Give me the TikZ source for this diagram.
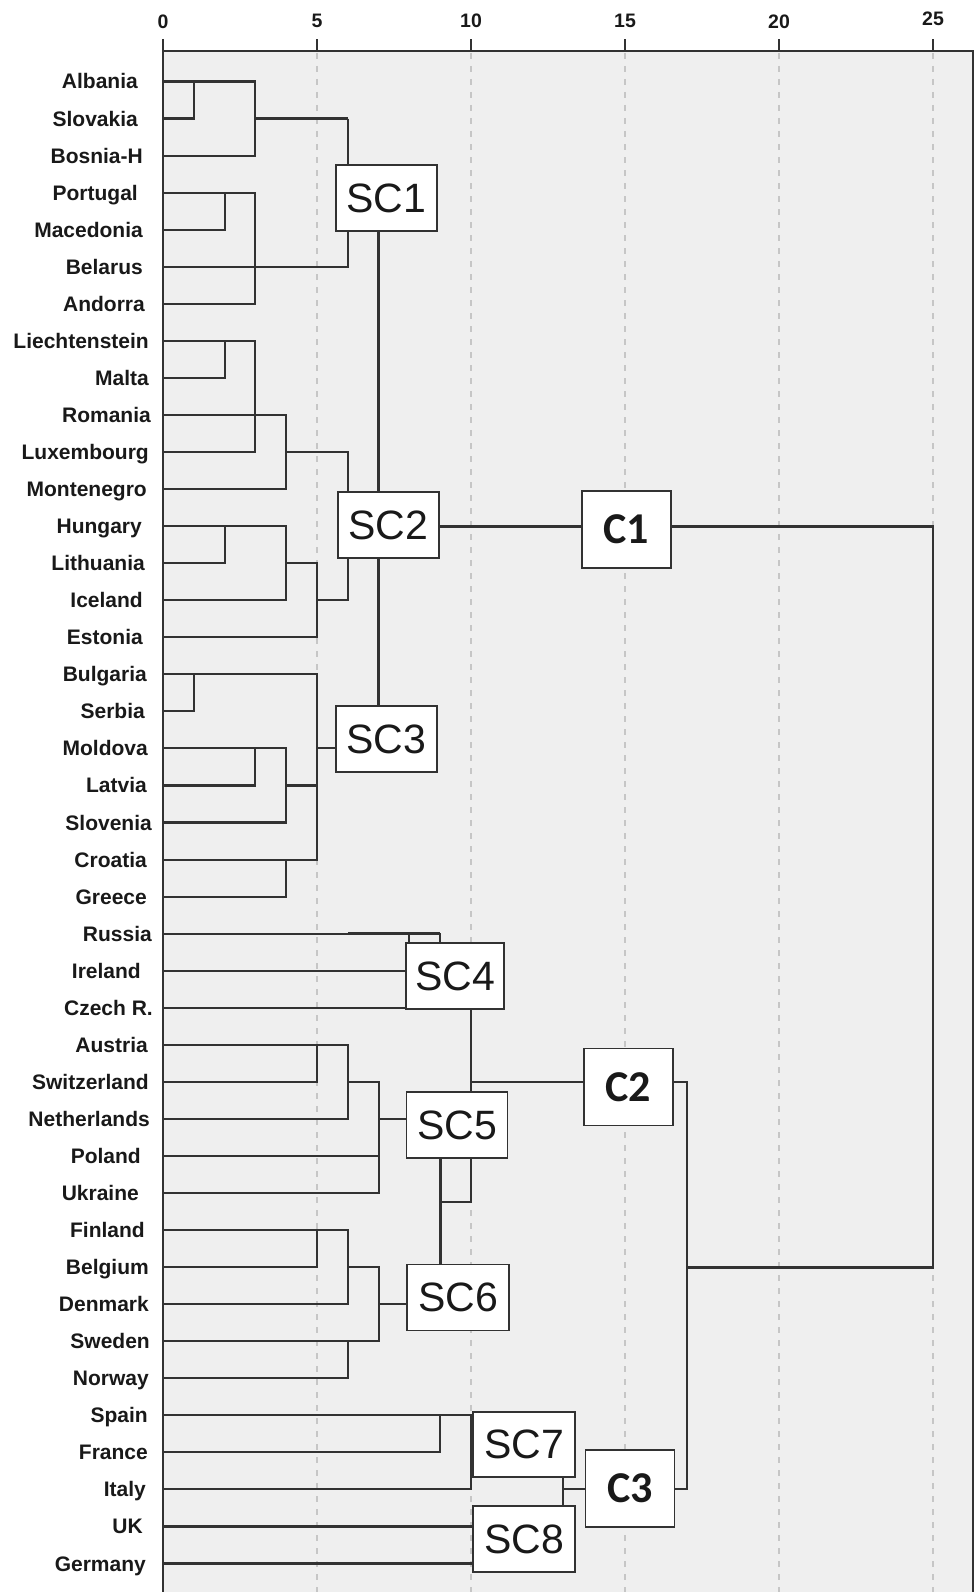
\documentclass[tikz,border=0pt]{standalone}
\usepackage{fontspec}
\setmainfont{Liberation Sans}
\newfontfamily\carl{Carlito}
\usetikzlibrary{calc}
\definecolor{panel}{RGB}{239,239,239}
\definecolor{dg}{RGB}{50,50,50}
\definecolor{gridc}{RGB}{198,198,198}
\definecolor{txt}{RGB}{25,25,25}
\pgfdeclarelayer{bg}
\pgfdeclarelayer{lines}
\pgfsetlayers{bg,lines,main}
\tikzset{
  den/.style={draw=dg, line width=2.1pt},
  heavy/.style={draw=dg, line width=2.8pt},
  axisline/.style={draw=dg, line width=2.3pt},
  gridline/.style={draw=gridc, line width=1.3pt, dash pattern=on 6pt off 7pt},
  lab/.style={font=\bfseries\fontsize{21}{21}\selectfont, text=txt, inner sep=0pt, text height=15pt, text depth=0pt, anchor=east},
  tick/.style={font=\bfseries\fontsize{19.5}{19.5}\selectfont, text=txt, inner sep=0pt},
  scbox/.style={draw=dg, fill=white, line width=1.9pt, minimum width=101pt, minimum height=66pt, inner sep=0pt, font=\fontsize{41}{41}\selectfont, text=txt},
  cbox/.style={draw=dg, fill=white, line width=1.9pt, minimum width=89pt, minimum height=77pt, inner sep=0pt, font=\carl\bfseries\fontsize{44}{44}\selectfont, text=txt}
}
\begin{document}
\begin{tikzpicture}[x=1pt,y=-1pt]
\useasboundingbox (0,0) rectangle (978,1592);
% axis coordinates
\foreach \k in {0,...,25} \coordinate (u\k) at ({163+30.8*\k},51);
\begin{pgfonlayer}{bg}
  \fill[panel] (163,51) rectangle (973,1592);
  \foreach \k in {5,10,15,20,25} \draw[gridline] ({163+30.8*\k},53) -- ({163+30.8*\k},1592);
\end{pgfonlayer}
% axis
\draw[axisline] (163,39) -- (163,1592);
\draw[axisline] (163,51) -- (973,51) -- (973,1592);
\foreach \k in {5,10,15,20,25} \draw[axisline] (u\k) -- ({163+30.8*\k},39);
\foreach \k/\ty in {0/22,5/21,10/21,15/21,20/22,25/19} \node[tick] (t\k) at ({163+30.8*\k},\ty) {\k};
% rows and labels
\foreach \nm/\re [count=\i] in {Albania/138,Slovakia/138,Bosnia-H/143,Portugal/138,Macedonia/143,Belarus/143,Andorra/145,Liechtenstein/149,Malta/149,Romania/151,Luxembourg/149,Montenegro/147,Hungary/142,Lithuania/145,Iceland/143,Estonia/143,Bulgaria/147,Serbia/145,Moldova/148,Latvia/147,Slovenia/152,Croatia/147,Greece/147,Russia/152,Ireland/141,Czech R./153,Austria/148,Switzerland/149,Netherlands/150,Poland/141,Ukraine/139,Finland/145,Belgium/149,Denmark/149,Sweden/150,Norway/149,Spain/148,France/148,Italy/146,UK/143,Germany/146}{
  \pgfmathsetmacro\yy{81.5+37.05*(\i-1)}
  \coordinate (r\i) at (163,\yy);
  \node[lab] (l\i) at (\re,\yy) {\nm};
}
% boxes
\node[scbox] (sc1) at (386.5,198) {SC1};
\node[scbox] (sc2) at (388.5,525) {SC2};
\node[scbox] (sc3) at (386.5,739) {SC3};
\node[scbox,minimum width=98pt] (sc4) at (455,976) {SC4};
\node[scbox] (sc5) at (457,1125) {SC5};
\node[scbox,minimum width=102pt] (sc6) at (458,1297.5) {SC6};
\node[scbox,minimum width=102pt,minimum height=65pt] (sc7) at (524,1444.5) {SC7};
\node[scbox,minimum width=102pt] (sc8) at (524,1539) {SC8};
\node[cbox] (c1) at (626.5,529.5) {C1};
\node[cbox] (c2) at (628.5,1087) {C2};
\node[cbox] (c3) at (630,1488.5) {C3};
\coordinate (k56) at (440.2,1202);
\begin{pgfonlayer}{lines}
% SC1
\draw[den] (r1) -- (u3|-r1) -- (u3|-r3) -- (r3);
\draw[den] (r2) -- (u1|-r2) -- (u1|-r1);
\draw[heavy] (u3|-r2) -- (u6|-r2);
\draw[den] (u6|-r2) -- (u6|-r6) -- (r6);
\draw[den] (r4) -- (u3|-r4) -- (u3|-r7) -- (r7);
\draw[den] (r5) -- (u2|-r5) -- (u2|-r4);
\draw[heavy] (u7|-sc1.south) -- (u7|-sc3.north);
% SC2
\draw[den] (r8) -- (u3|-r8) -- (u3|-r11) -- (r11);
\draw[den] (r9) -- (u2|-r9) -- (u2|-r8);
\draw[den] (r10) -- (u4|-r10) -- (u4|-r12) -- (r12);
\draw[den] (u4|-r11) -- (u6|-r11) -- (u6|-r15) -- (u5|-r15);
\draw[den] (r13) -- (u4|-r13) -- (u4|-r15) -- (r15);
\draw[den] (r14) -- (u2|-r14) -- (u2|-r13);
\draw[den] (u4|-r14) -- (u5|-r14) -- (u5|-r16) -- (r16);
\draw[heavy] (sc2.east|-r13) -- (c1.west|-r13);
% SC3
\draw[den] (r17) -- (u5|-r17) -- (u5|-r22) -- (r22);
\draw[den] (r18) -- (u1|-r18) -- (u1|-r17);
\draw[den] (r19) -- (u4|-r19) -- (u4|-r21) -- (r21);
\draw[den] (r20) -- (u3|-r20) -- (u3|-r19);
\draw[den] (u4|-r20) -- (u5|-r20);
\draw[den] (r23) -- (u4|-r23) -- (u4|-r22);
\draw[den] (u5|-r19) -- (sc3.west|-r19);
% SC4
\draw[den] (r24) -- (u9|-r24) -- (u9|-sc4.north);
\draw[heavy] (u6|-r24) -- (u9|-r24);
\draw[den] (u8|-r24) -- (u8|-sc4.north);
\draw[den] (r25) -- (sc4.west|-r25);
\draw[den] (r26) -- (sc4.west|-r26);
\draw[den] (u10|-sc4.south) -- (u10|-sc5.north);
\draw[den] (u10|-r28) -- (c2.west|-r28);
% SC5
\draw[den] (r27) -- (u6|-r27) -- (u6|-r29) -- (r29);
\draw[den] (r28) -- (u5|-r28) -- (u5|-r27);
\draw[den] (u6|-r28) -- (u7|-r28) -- (u7|-r31) -- (r31);
\draw[den] (r30) -- (u7|-r30);
\draw[den] (u7|-r29) -- (sc5.west|-r29);
\draw[heavy] (u9|-sc5.south) -- (u9|-sc6.north);
\draw[den] (u10|-sc5.south) -- (u10|-k56) -- (k56);
% SC6
\draw[den] (r32) -- (u6|-r32) -- (u6|-r34) -- (r34);
\draw[den] (r33) -- (u5|-r33) -- (u5|-r32);
\draw[den] (u6|-r33) -- (u7|-r33) -- (u7|-r35) -- (r35);
\draw[den] (r36) -- (u6|-r36) -- (u6|-r35);
\draw[den] (u7|-r34) -- (sc6.west|-r34);
% SC7 / SC8
\draw[den] (r37) -- (u10|-r37) -- (u10|-r39) -- (r39);
\draw[den] (r38) -- (u9|-r38) -- (u9|-r37);
\draw[den] (r40) -- (sc8.west|-r40);
\draw[den] (r41) -- (sc8.west|-r41);
\draw[den] (u13|-sc7.south) -- (u13|-sc8.north);
\draw[den] (u13|-r39) -- (c3.west|-r39);
% top level
\draw[den] (c3.east|-r39) -- (u17|-r39) -- (u17|-r28) -- (c2.east|-r28);
\draw[heavy] (u17|-r33) -- (u25|-r33) -- (u25|-r13) -- (c1.east|-r13);
\end{pgfonlayer}
\end{tikzpicture}
\end{document}
